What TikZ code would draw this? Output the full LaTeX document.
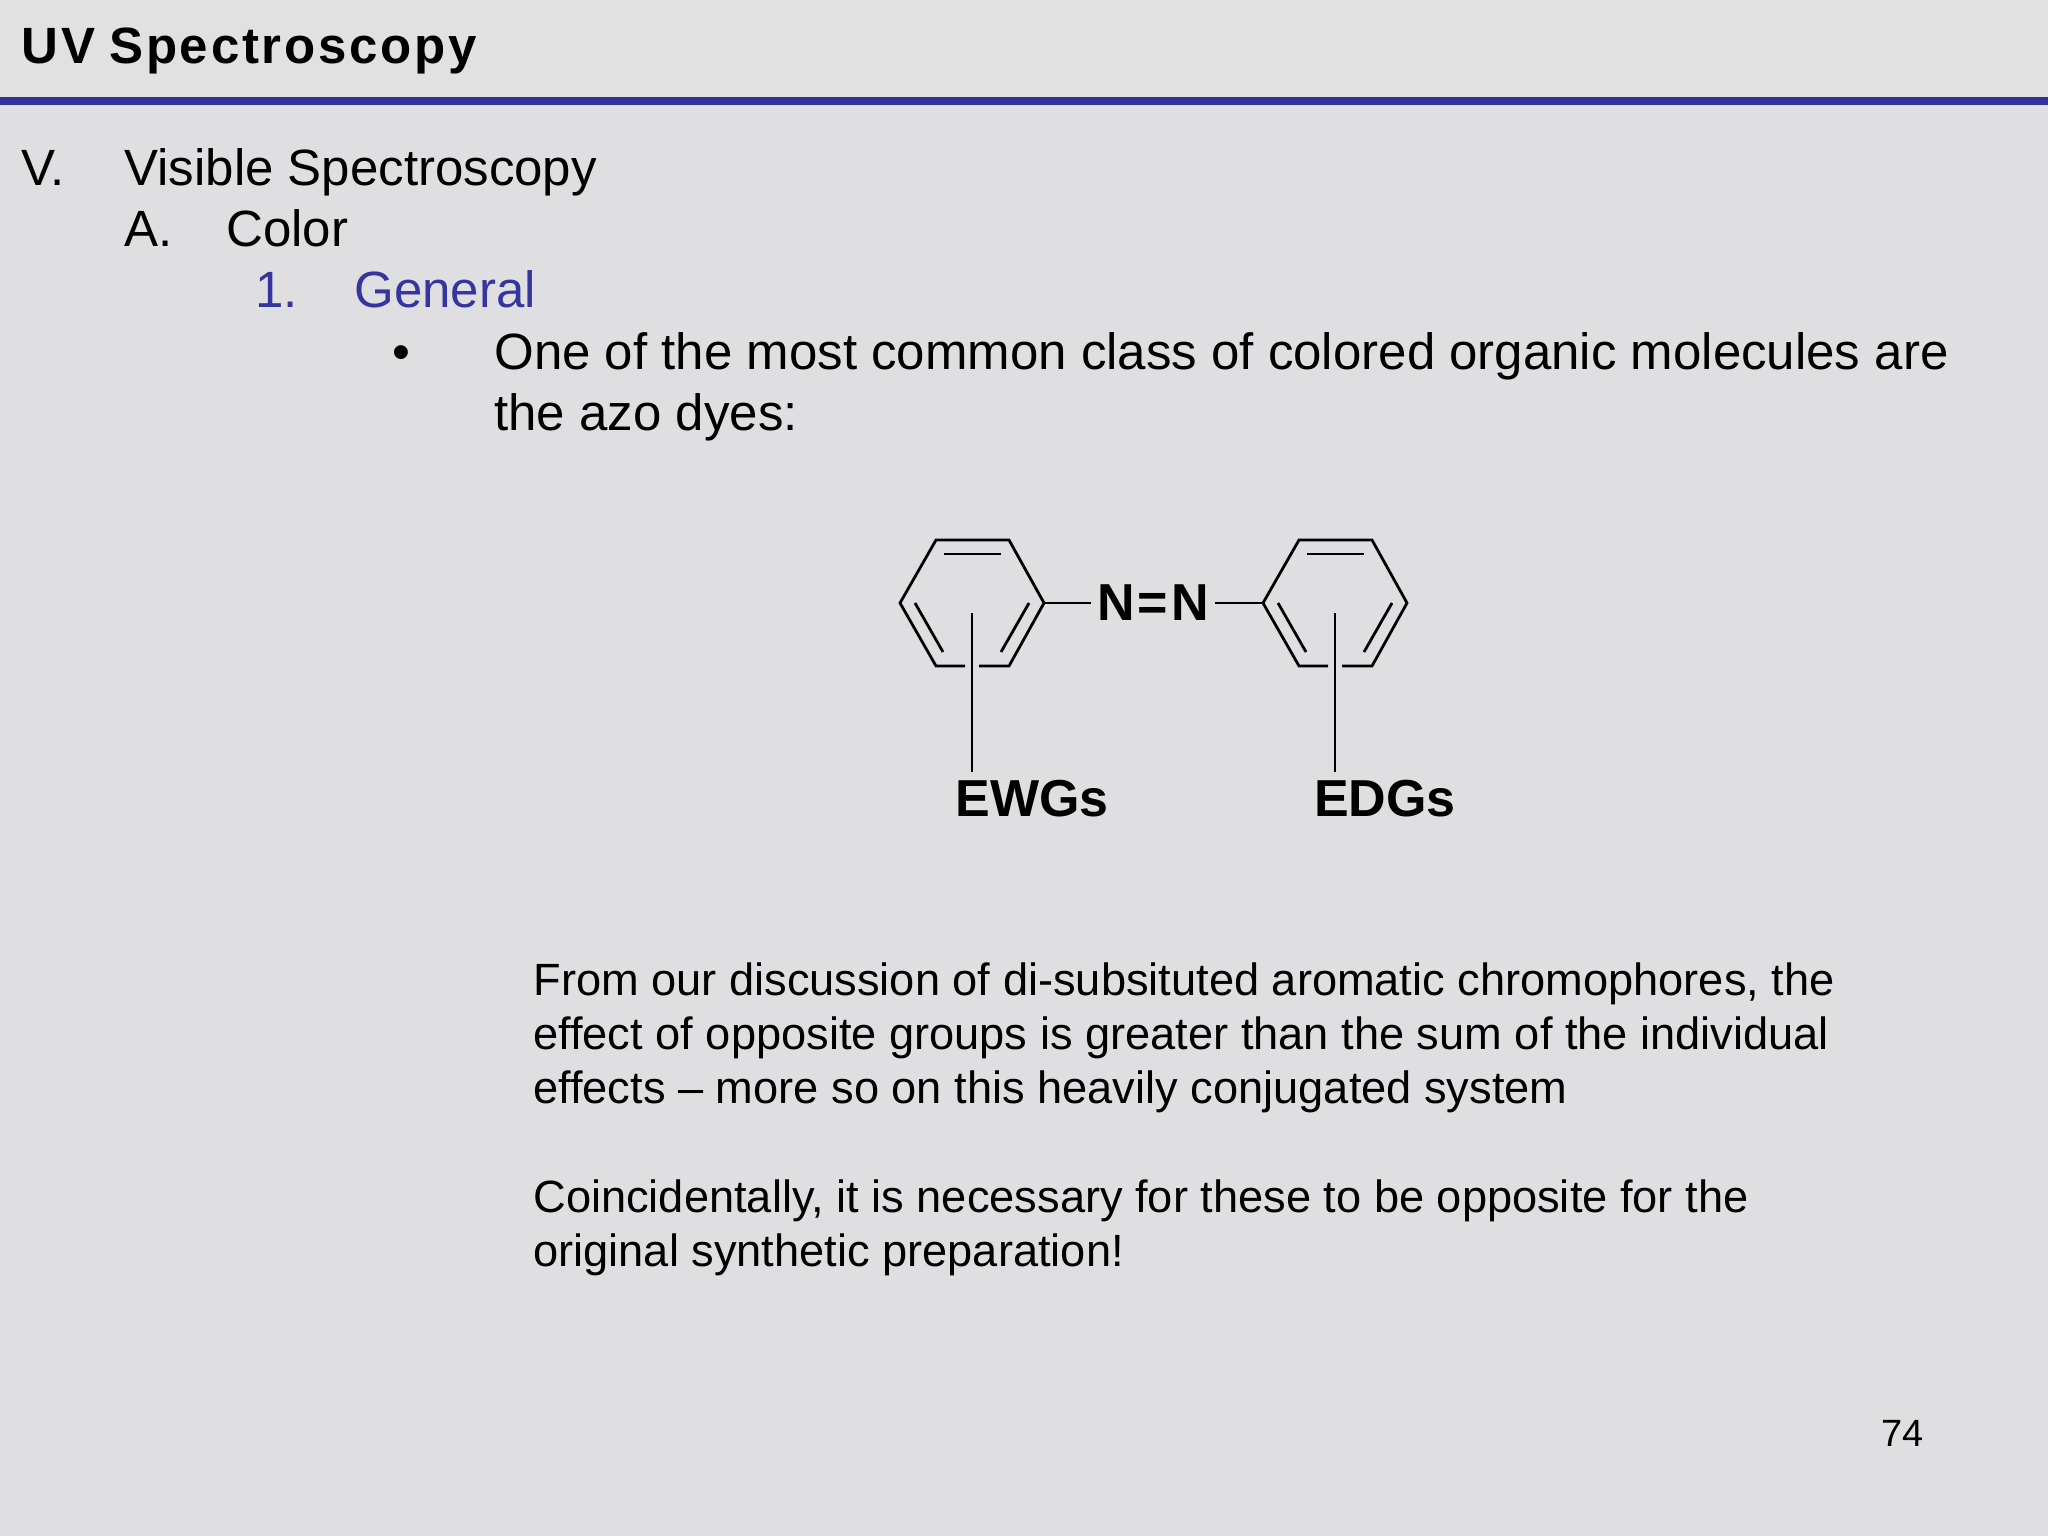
\documentclass[tikz,border=0pt]{standalone}
\usepackage{fontspec}
\setmainfont{Liberation Sans}
\begin{document}
\begin{tikzpicture}[x=0.5pt,y=-0.5pt,
  txt/.style={anchor=base west,inner sep=0pt,font=\fontsize{25.5}{30}\selectfont},
  para/.style={anchor=base west,inner sep=0pt,font=\fontsize{22.6}{27}\selectfont},
  chem/.style={inner sep=0pt,font=\fontsize{26}{30}\selectfont\bfseries},
  bond/.style={line width=1.4pt,line cap=butt}]
\definecolor{bg}{HTML}{DFDEE1}
\definecolor{hdr}{HTML}{E1E1E1}
\definecolor{rule}{HTML}{33339A}
\definecolor{gen}{HTML}{3535A0}
\fill[bg] (0,0) rectangle (2048,1536);
\useasboundingbox (0,0) rectangle (2048,1536);
\fill[hdr] (0,0) rectangle (2048,98);
\fill[rule] (0,97) rectangle (2048,105);
\node[anchor=base west,inner sep=0pt,font=\fontsize{25.5}{30}\selectfont\bfseries] (title) at (21,64) {U\kern1.5pt V S\kern1.35pt p\kern1.35pt e\kern1.35pt c\kern1.35pt t\kern1.35pt r\kern1.35pt o\kern1.35pt s\kern1.35pt c\kern1.35pt o\kern1.35pt p\kern1.35pt y};
\node[txt] (l1) at (21,185) {V.};
\node[txt] (l1t) at (124,185) {Visible Spectroscopy};
\node[txt] (l2) at (124,246) {A.};
\node[txt] (l2t) at (226,246) {Color};
\node[txt,text=gen] (l3) at (255,307) {1.};
\node[txt,text=gen] (l3t) at (354,307) {General};
\node[txt] (b) at (392,369) {\textbullet};
\node[txt] (l4a) at (494,369) {One of the most common class of colored organic molecules are};
\node[txt] (l4b) at (494,430) {the azo dyes:};
\node[para] (p1a) at (533,995) {From our discussion of di-subsituted aromatic chromophores, the};
\node[para] (p1b) at (533,1049) {effect of opposite groups is greater than the sum of the individual};
\node[para] (p1c) at (533,1103) {effects -- more so on this heavily conjugated system};
\node[para] (p2a) at (533,1212) {Coincidentally, it is necessary for these to be opposite for the};
\node[para] (p2b) at (533,1266) {original synthetic preparation!};
\node[anchor=base east,inner sep=0pt,font=\fontsize{19}{22}\selectfont] (pg) at (1924,1446) {74};
% rings
\foreach \cx/\nm in {972/L,1335/R}{
  \draw[bond,line join=miter] (\cx-7,666) -- (\cx-36,666) -- (\cx-72,603) -- (\cx-36,540) -- (\cx+37,540) -- (\cx+72,603) -- (\cx+37,666) -- (\cx+7,666);
  \draw[bond] (\cx-28,554) -- (\cx+29,554);
  \draw[bond] (\cx-57,603) -- (\cx-29,652);
  \draw[bond] (\cx+57,603) -- (\cx+29,652);
  \coordinate (top\nm) at (\cx,613);
}
\node[chem,inner xsep=3pt] (nn) at (1153,603) {N\kern1.5pt{=}\kern1.5pt N};
\coordinate (Lr) at (1044,603);
\coordinate (Rl) at (1263,603);
\draw[bond] (Lr) -- (nn.west|-Lr);
\draw[bond] (nn.east|-Rl) -- (Rl);
\node[chem,anchor=base] (ewg) at (1032,816) {EWGs};
\node[chem,anchor=base] (edg) at (1385,816) {EDGs};
\draw[bond] (topL) -- ++(0,159) coordinate (eL);
\draw[bond] (topR) -- ++(0,159) coordinate (eR);
\end{tikzpicture}
\end{document}
